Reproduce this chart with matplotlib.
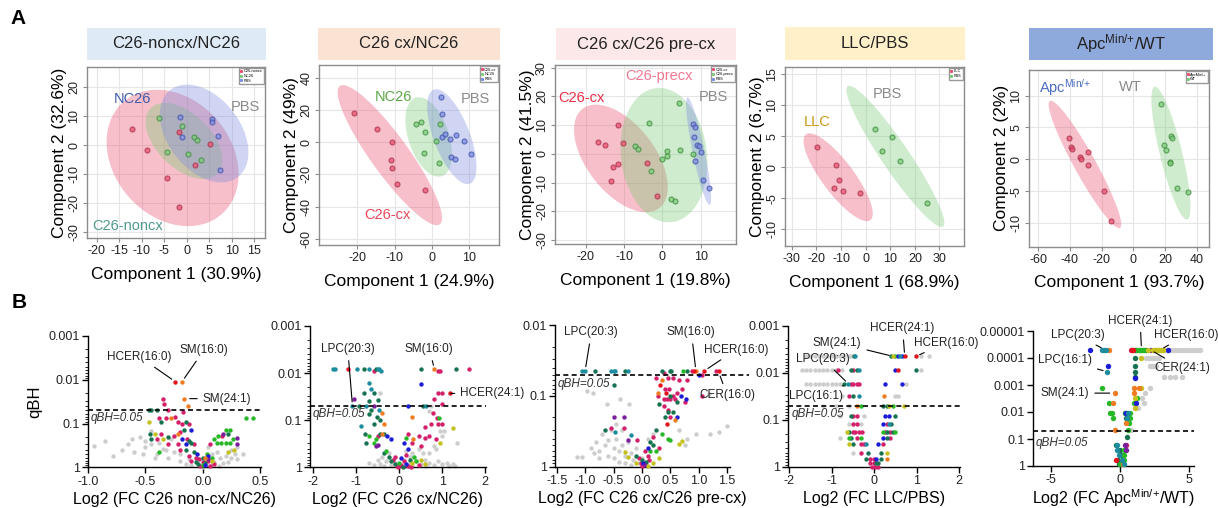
import numpy as np
import matplotlib.pyplot as plt
from matplotlib.patches import Rectangle
from matplotlib.lines import Line2D
from matplotlib.ticker import NullFormatter, LogLocator

plt.rcParams['font.family'] = ['Liberation Sans', 'DejaVu Sans']
plt.rcParams['mathtext.default'] = 'regular'
plt.rcParams['axes.unicode_minus'] = False

W, H = 1218, 508
APC = 'Apc$^{Min/{+}}$'

# ---------------- A: PLS-DA scores (component 1 / component 2) ----------------
a1_groups = ['C26-noncx', 'NC26', 'PBS']
a1_pc1 = [[-1.8, -12.2, -8.9, 1.9, 5.2, -4.4, -1.8],
          [-6.1, -1.1, -4.4, 1.7, 2.3, 0.2, 3.1],
          [-1.4, -1.1, 5.7, 5.7, 6.9, 7.4]]
a1_pc2 = [[4.6, 5.4, -1.7, -7.0, 0.3, -11.2, -21.4],
          [9.4, 6.6, -2.4, 2.9, 1.7, -3.1, -5.1],
          [9.6, 2.6, 9.1, 8.0, 3.1, -8.6]]

a2_groups = ['C26-cx', 'NC26', 'PBS']
a2_pc1 = [[-20.9, -14.6, -10.7, -10.9, -10.6, -9.3, -1.9],
          [-4.2, -3.0, -1.8, 1.1, -2.1, 2.1, 2.0],
          [2.5, 2.7, 2.8, 3.5, 4.9, 6.6, 8.6, 10.6, 5.1, 6.3]]
a2_pc2 = [[18.4, 8.1, 0.4, -11.0, -16.1, -26.1, -29.6],
          [11.6, 12.8, 6.2, 0.8, -6.8, 11.6, -13.0],
          [28.4, 17.4, 3.5, 5.0, 2.1, 4.8, 0.8, -7.5, -9.1, -10.6]]

a3_groups = ['C26-cx', 'C26-precx', 'PBS']
a3_pc1 = [[-16.9, -15.0, -11.5, -10.3, -11.5, -13.0, -13.5, -4.1, -1.5],
          [-3.4, 4.4, -7.1, -6.4, -3.0, 1.1, 1.3, -0.2, 4.6, 2.2, 3.4, 8.1],
          [8.0, 8.6, 8.3, 9.0, 10.0, 8.6, 10.6, 12.2, 9.6]]
a3_pc2 = [[4.3, 3.0, 10.1, 3.9, -3.5, -4.6, -9.4, -3.2, -14.5],
          [10.9, 17.8, 2.9, 1.6, -5.8, -0.7, 0.9, -1.9, 1.4, -15.8, -16.3, 0.0],
          [10.4, 9.2, 5.8, 3.0, 0.7, -2.4, -9.0, -11.9, 2.8]]

a4_groups = ['LLC', 'PBS']
a4_pc1 = [[-19.9, -12.2, -10.7, -13.0, -9.1, -2.2],
          [3.9, 6.8, 10.7, 14.1, 24.9]]
a4_pc2 = [[3.3, 0.3, -2.1, -3.3, -3.8, -4.1],
          [6.1, 2.6, 4.8, 1.0, -5.8]]

a5_groups = ['ApcMin/+', 'WT']
a5_pc1 = [[-40.6, -39.6, -38.5, -33.9, -33.3, -28.4, -28.4, -18.3, -13.9],
          [17.3, 19.2, 20.4, 24.0, 24.2, 23.4, 23.4, 27.4, 34.5]]
a5_pc2 = [[3.4, 1.9, 1.6, 0.4, 0.0, 1.1, -0.9, -5.0, -9.7],
          [8.6, 2.3, 1.4, 3.7, 3.4, -0.5, -0.6, -4.5, -5.1]]

# ---------------- B: volcano data (log2 FC, qBH, lipid class colour code) ----------------
b1_pts = [
    (-0.95, 0.33, 'g'), (-0.85, 0.25, 'g'), (-0.78, 0.55, 'g'), (-0.7, 0.4, 'g'), (-0.65, 0.3, 'g'),
    (-0.62, 0.22, 'g'), (-0.6, 0.45, 'g'), (-0.55, 0.2, 'g'), (-0.5, 0.35, 'g'), (-0.5, 0.25, 'g'),
    (-0.45, 0.3, 'g'), (-0.45, 0.15, 'g'), (-0.4, 0.5, 'g'), (-0.35, 0.38, 'g'), (-0.3, 0.6, 'g'),
    (-0.28, 0.22, 'g'), (-0.25, 0.45, 'g'), (-0.2, 0.7, 'g'), (-0.15, 0.85, 'g'), (-0.1, 0.9, 'g'),
    (-0.05, 0.6, 'g'), (0.0, 1.0, 'g'), (0.05, 0.95, 'g'), (0.05, 0.35, 'g'), (0.08, 0.5, 'g'),
    (0.1, 0.75, 'g'), (0.12, 0.45, 'g'), (0.15, 0.6, 'g'), (0.18, 0.8, 'g'), (0.2, 0.55, 'g'),
    (0.25, 0.6, 'g'), (0.25, 0.4, 'g'), (0.3, 0.65, 'g'), (0.3, 0.35, 'g'), (0.35, 0.5, 'g'),
    (-0.38, 0.28, 'g'), (-0.32, 0.4, 'g'), (-0.2, 0.5, 'g'), (-0.12, 0.65, 'g'), (0.02, 0.7, 'g'),
    (0.08, 0.85, 'g'), (0.14, 0.95, 'g'), (0.22, 0.75, 'g'), (0.28, 0.5, 'g'), (-0.52, 0.5, 'g'),
    (-0.42, 0.6, 'g'),
    (-0.24, 0.011, 'r'), (-0.18, 0.011, 'o'), (-0.16, 0.027, 'o'), (-0.13, 0.04, 'o'),
    (-0.35, 0.027, 'm'), (-0.34, 0.035, 'm'), (-0.17, 0.055, 'm'),
    (-0.47, 0.05, 'd'), (-0.45, 0.05, 'd'), (-0.4, 0.05, 'd'), (-0.3, 0.05, 'm'),
    (-0.38, 0.075, 'm'), (-0.32, 0.075, 'm'), (-0.28, 0.075, 'o'), (-0.24, 0.07, 'm'),
    (0.38, 0.075, 'G'), (0.44, 0.075, 'G'),
    (-0.47, 0.09, 'y'), (-0.36, 0.09, 'd'), (-0.22, 0.09, 'm'), (-0.18, 0.1, 'm'), (-0.15, 0.09, 'd'),
    (-0.12, 0.1, 'm'), (-0.1, 0.14, 'b'), (-0.16, 0.14, 'd'), (-0.2, 0.16, 'm'),
    (-0.42, 0.17, 'y'), (-0.46, 0.17, 'd'), (-0.36, 0.17, 'm'), (-0.3, 0.2, 'd'), (-0.25, 0.19, 'm'),
    (-0.22, 0.17, 'o'), (0.2, 0.14, 'G'), (0.24, 0.14, 'G'), (0.18, 0.17, 'p'), (0.13, 0.19, 'G'),
    (0.17, 0.19, 'm'), (0.22, 0.17, 'd'), (0.1, 0.22, 'G'), (0.3, 0.21, 'p'), (0.26, 0.22, 'G'),
    (-0.45, 0.22, 'd'), (-0.4, 0.23, 'm'), (-0.35, 0.23, 'y'), (-0.18, 0.22, 'b'), (-0.14, 0.22, 'm'),
    (-0.12, 0.25, 'd'), (0.12, 0.28, 'G'), (0.16, 0.28, 'G'), (0.2, 0.28, 'G'), (0.24, 0.28, 'G'),
    (0.3, 0.3, 'p'), (-0.3, 0.3, 'm'), (-0.22, 0.3, 'm'), (-0.15, 0.3, 'b'), (-0.1, 0.28, 'd'),
    (-0.08, 0.3, 'm'), (0.06, 0.3, 'm'), (-0.38, 0.45, 'G'), (-0.2, 0.4, 'm'), (-0.15, 0.4, 'd'),
    (-0.08, 0.45, 'd'), (-0.05, 0.5, 'b'), (0.22, 0.45, 'y'), (0.27, 0.4, 'y'), (0.04, 0.5, 'G'),
    (0.0, 0.6, 'd'), (-0.12, 0.55, 'm'), (-0.03, 0.65, 'm'), (0.05, 0.7, 'm'), (0.1, 0.85, 'm'),
    (-0.1, 0.7, 'm'), (-0.06, 0.75, 'd'), (0.02, 0.8, 'd'), (0.02, 0.9, 'b'), (-0.02, 0.95, 'm'),
    (0.06, 0.95, 'm'), (0.0, 0.9, 'G'), (0.08, 0.7, 'y'), (0.05, 0.65, 'p'), (0.05, 0.55, 'b'),
    (-0.04, 0.85, 'd'), (0.0, 0.75, 'm'), (0.02, 0.6, 'o'), (-0.06, 0.6, 'm'), (0.08, 0.6, 'G'),
]

b2_pts = [
    (-0.6, 0.9, 'g'), (-0.5, 0.7, 'g'), (-0.45, 0.85, 'g'), (-0.4, 0.6, 'g'), (-0.3, 0.75, 'g'),
    (-0.2, 0.9, 'g'), (-0.1, 0.8, 'g'), (0.0, 0.95, 'g'), (0.1, 0.7, 'g'), (0.2, 0.85, 'g'),
    (0.3, 0.9, 'g'), (0.4, 0.75, 'g'), (0.5, 0.85, 'g'), (0.6, 0.7, 'g'), (0.7, 0.8, 'g'),
    (0.8, 0.9, 'g'), (0.9, 0.75, 'g'), (1.0, 0.85, 'g'), (1.1, 0.8, 'g'), (1.25, 0.85, 'g'),
    (1.3, 0.95, 'g'), (0.55, 0.5, 'g'), (0.7, 0.5, 'g'), (0.85, 0.4, 'g'), (0.8, 0.35, 'g'),
    (1.35, 0.3, 'g'), (0.95, 0.17, 'g'), (1.05, 0.17, 'g'), (0.7, 0.065, 'g'), (0.75, 0.05, 'g'),
    (-0.45, 0.027, 'g'), (0.15, 0.45, 'g'), (0.3, 0.5, 'g'), (-0.25, 0.5, 'g'), (0.45, 0.4, 'g'),
    (1.0, 0.22, 'g'), (-0.7, 0.8, 'g'), (0.25, 0.6, 'g'), (0.62, 0.95, 'g'), (1.15, 0.95, 'g'),
    (-0.35, 0.95, 'g'),
    (-1.55, 0.0083, 't'), (-1.5, 0.0083, 't'), (-1.2, 0.0083, 'r'), (-0.98, 0.0083, 't'),
    (-0.82, 0.0083, 'd'), (-0.7, 0.0083, 't'), (-0.55, 0.0083, 'd'), (-0.5, 0.0083, 't'),
    (-0.47, 0.0083, 't'), (-0.6, 0.009, 'm'), (-0.42, 0.009, 't'),
    (0.5, 0.0083, 'd'), (0.82, 0.0083, 'o'), (0.9, 0.009, 'm'), (0.95, 0.009, 'm'),
    (1.32, 0.0083, 'd'), (1.62, 0.0083, 'm'),
    (-0.7, 0.016, 't'), (-0.65, 0.022, 't'), (-0.82, 0.027, 'd'), (-0.6, 0.027, 'd'),
    (-1.05, 0.035, 'p'), (-0.7, 0.04, 'd'), (-0.5, 0.038, 'd'),
    (0.5, 0.017, 'b'), (0.9, 0.027, 'm'), (1.0, 0.027, 'm'), (1.18, 0.027, 'r'), (0.82, 0.035, 'm'),
    (1.0, 0.045, 'm'),
    (-1.1, 0.05, 't'), (-0.95, 0.05, 'd'), (-0.78, 0.05, 't'), (-0.6, 0.05, 'p'), (0.2, 0.05, 'b'),
    (0.55, 0.05, 'd'), (0.62, 0.05, 't'),
    (-0.65, 0.06, 'd'), (-0.48, 0.06, 't'), (-0.7, 0.075, 'd'), (-0.4, 0.07, 'o'), (-0.52, 0.085, 'd'),
    (-0.45, 0.1, 'd'), (-0.9, 0.13, 't'), (-0.6, 0.12, 'd'), (-0.35, 0.12, 'o'),
    (0.78, 0.07, 'm'), (0.3, 0.085, 'o'), (0.88, 0.09, 'm'), (0.75, 0.12, 'm'), (0.9, 0.12, 'm'),
    (1.0, 0.12, 'm'), (0.92, 0.09, 'G'), (1.25, 0.15, 'y'), (0.6, 0.14, 'm'),
    (-0.7, 0.22, 'G'), (-0.55, 0.25, 'G'), (-0.8, 0.2, 'd'), (-0.5, 0.22, 'm'), (-0.4, 0.2, 'o'),
    (-0.45, 0.2, 'd'), (-0.35, 0.2, 'd'), (-0.28, 0.22, 'b'), (-0.2, 0.25, 'b'), (0.2, 0.2, 'm'),
    (0.45, 0.22, 'm'), (0.32, 0.25, 'o'), (0.15, 0.24, 'G'), (0.6, 0.24, 'm'), (0.7, 0.22, 'm'),
    (0.85, 0.25, 'm'), (0.95, 0.3, 'y'),
    (-0.55, 0.35, 'p'), (-0.5, 0.33, 'p'), (-0.78, 0.3, 'd'), (-0.6, 0.3, 'G'), (0.1, 0.3, 'b'),
    (0.2, 0.4, 'b'), (0.3, 0.3, 'm'), (0.5, 0.35, 'm'),
    (-0.35, 0.5, 'd'), (-0.3, 0.45, 'G'), (-0.25, 0.6, 'd'), (-0.15, 0.7, 'm'), (-0.1, 0.85, 'd'),
    (-0.05, 0.95, 'm'), (0.0, 0.8, 'G'), (0.05, 0.9, 'm'), (0.1, 0.75, 'm'), (0.15, 0.85, 'b'),
    (0.2, 0.95, 'm'), (0.25, 0.7, 'd'), (0.3, 0.8, 'y'), (0.4, 0.75, 'G'), (0.45, 0.9, 'm'),
    (0.6, 0.85, 'y'), (-0.2, 0.75, 'd'), (-0.1, 0.6, 'm'), (0.05, 0.65, 'b'), (0.15, 0.55, 'm'),
    (0.35, 0.6, 'G'), (0.5, 0.7, 'y'), (-0.02, 0.98, 'm'), (0.08, 0.98, 'd'), (0.28, 0.98, 'm'),
]

b3_pts = [
    (-0.96, 0.085, 'g'), (-0.86, 0.09, 'g'), (-0.62, 0.13, 'g'), (-0.38, 0.11, 'g'), (-0.22, 0.13, 'g'),
    (-1.15, 0.72, 'g'), (-1.05, 0.72, 'g'), (-0.9, 0.55, 'g'), (-0.8, 0.45, 'g'), (-0.75, 0.6, 'g'),
    (-0.7, 0.35, 'g'), (-0.65, 0.5, 'g'), (-0.6, 0.42, 'g'), (-0.55, 0.3, 'g'), (-0.5, 0.55, 'g'),
    (-0.45, 0.4, 'g'), (-0.4, 0.6, 'g'), (-0.35, 0.5, 'g'), (-0.3, 0.7, 'g'), (-0.25, 0.45, 'g'),
    (-0.2, 0.65, 'g'), (-0.15, 0.8, 'g'), (-0.1, 0.55, 'g'), (-0.05, 0.9, 'g'), (0.0, 0.75, 'g'),
    (-0.6, 0.7, 'g'), (-0.5, 0.75, 'g'), (-0.4, 0.85, 'g'), (-0.3, 0.9, 'g'), (-0.2, 0.95, 'g'),
    (-0.75, 0.75, 'g'), (-0.85, 0.65, 'g'), (-0.45, 0.25, 'g'), (-0.35, 0.3, 'g'), (1.5, 0.27, 'g'),
    (1.35, 0.32, 'g'), (1.2, 0.35, 'g'), (1.18, 0.095, 'g'), (0.95, 0.35, 'g'), (0.8, 0.4, 'g'),
    (0.75, 0.5, 'g'), (0.65, 0.3, 'g'), (0.1, 0.4, 'g'), (0.2, 0.35, 'g'),
    (-1.05, 0.044, 't'), (-1.0, 0.044, 't'), (-0.83, 0.044, 'd'), (-0.55, 0.044, 't'),
    (-0.5, 0.044, 't'), (-0.48, 0.044, 't'), (-0.3, 0.044, 'd'), (-0.25, 0.044, 't'),
    (-0.5, 0.07, 'd'),
    (0.36, 0.044, 'd'), (0.5, 0.044, 'd'), (0.38, 0.047, 'm'), (0.52, 0.044, 'd'), (0.72, 0.044, 'G'),
    (0.8, 0.044, 'd'), (0.88, 0.044, 'm'), (0.92, 0.044, 'r'), (0.95, 0.044, 'o'), (1.1, 0.044, 'r'),
    (1.3, 0.044, 'm'), (1.35, 0.044, 'r'), (1.0, 0.05, 'b'), (1.06, 0.05, 'm'),
    (0.25, 0.055, 'm'), (0.45, 0.055, 'm'), (0.55, 0.055, 'm'), (0.65, 0.06, 'm'), (0.8, 0.06, 'm'),
    (0.35, 0.06, 'o'), (0.32, 0.07, 'r'),
    (0.4, 0.08, 'm'), (0.48, 0.08, 'm'), (0.62, 0.09, 'm'), (0.7, 0.08, 'm'), (0.5, 0.1, 'd'),
    (0.68, 0.1, 'b'), (0.78, 0.11, 'b'), (0.55, 0.1, 'm'), (0.75, 0.12, 'm'), (0.62, 0.12, 'd'),
    (0.28, 0.1, 'm'), (0.28, 0.09, 'o'), (0.42, 0.09, 'r'), (0.38, 0.11, 'm'), (0.44, 0.11, 'm'),
    (0.5, 0.11, 'm'), (0.58, 0.11, 'm'), (1.05, 0.1, 'm'),
    (0.3, 0.13, 'd'), (0.38, 0.14, 'm'), (0.46, 0.16, 'm'), (0.4, 0.2, 'd'), (0.45, 0.17, 'd'),
    (0.55, 0.17, 'd'), (0.5, 0.2, 'm'), (0.62, 0.2, 'b'), (0.58, 0.22, 'o'), (0.44, 0.25, 'r'),
    (-0.5, 0.2, 'p'), (-0.32, 0.2, 'p'), (-0.32, 0.28, 'm'), (-0.55, 0.28, 'm'), (-0.65, 0.3, 'd'),
    (-0.48, 0.32, 't'), (-0.25, 0.42, 'p'), (-0.2, 0.36, 't'), (-0.08, 0.42, 'm'),
    (0.7, 0.44, 'y'), (0.65, 0.48, 'y'), (0.5, 0.42, 'G'), (0.45, 0.4, 'G'), (0.3, 0.55, 'm'),
    (0.2, 0.5, 'd'), (0.15, 0.6, 'G'), (0.1, 0.7, 'm'), (-0.3, 0.62, 'y'), (-0.25, 0.72, 'y'),
    (-0.1, 0.9, 'y'), (0.1, 0.98, 'y'), (0.25, 0.3, 'd'), (0.35, 0.35, 'G'), (0.2, 0.38, 'm'),
    (0.15, 0.45, 'd'), (0.05, 0.6, 'm'), (0.0, 0.8, 'd'), (-0.05, 0.75, 'm'), (0.02, 0.9, 'b'),
    (0.0, 0.98, 'm'), (0.08, 0.85, 'd'), (0.25, 0.6, 'G'), (0.3, 0.75, 'y'), (0.12, 0.8, 'm'),
    (-0.1, 0.7, 'd'), (0.1, 0.55, 'b'), (0.05, 0.95, 'p'), (0.2, 0.9, 'y'), (-0.02, 0.9, 'm'),
]

b4_pts = [
    (-1.6, 0.0045, 'g'), (-1.5, 0.0045, 'g'), (-1.4, 0.0045, 'g'), (-1.3, 0.0045, 'g'),
    (-1.2, 0.0045, 'g'), (-1.1, 0.0045, 'g'), (-1.0, 0.0045, 'g'), (-0.9, 0.0045, 'g'),
    (-0.8, 0.0045, 'g'), (-0.7, 0.0045, 'g'), (-0.6, 0.0045, 'g'), (-0.55, 0.0045, 'g'),
    (1.1, 0.0045, 'g'), (1.3, 0.0045, 'g'),
    (-0.48, 0.0045, 'd'), (-0.45, 0.0045, 't'), (0.4, 0.0045, 'd'), (0.44, 0.0045, 'y'),
    (0.48, 0.0045, 'G'), (0.55, 0.0045, 'b'), (0.6, 0.0045, 't'), (0.65, 0.0045, 'b'),
    (0.72, 0.0045, 'r'), (0.98, 0.0045, 'r'),
    (-1.7, 0.0088, 'g'), (-1.6, 0.0088, 'g'), (-1.5, 0.0088, 'g'), (-1.4, 0.0088, 'g'),
    (-1.3, 0.0088, 'g'), (-1.2, 0.0088, 'g'), (-1.1, 0.0088, 'g'), (-1.0, 0.0088, 'g'),
    (-0.9, 0.0088, 'g'), (-0.75, 0.0088, 'g'), (1.1, 0.0088, 'g'),
    (-0.85, 0.0088, 'm'), (-0.55, 0.0088, 'd'), (-0.5, 0.0088, 'm'), (-0.4, 0.0088, 'd'),
    (-0.35, 0.0088, 't'), (0.48, 0.0088, 'b'), (0.55, 0.0088, 'r'), (0.98, 0.0088, 'd'),
    (-1.6, 0.0174, 'g'), (-1.5, 0.0174, 'g'), (-1.4, 0.0174, 'g'), (-1.3, 0.0174, 'g'),
    (-1.2, 0.0174, 'g'), (-1.1, 0.0174, 'g'), (-1.0, 0.0174, 'g'), (-0.9, 0.0174, 'g'),
    (-0.8, 0.0174, 'g'), (0.75, 0.0174, 'g'),
    (-0.7, 0.0174, 'd'), (-0.62, 0.0174, 't'), (-0.55, 0.0174, 'm'), (-0.5, 0.0174, 'm'),
    (-0.4, 0.0174, 'm'), (-0.35, 0.0174, 'm'), (0.25, 0.0174, 'b'), (0.65, 0.0174, 'b'),
    (-0.75, 0.031, 'g'), (0.5, 0.031, 'g'), (0.55, 0.031, 'g'),
    (-0.6, 0.031, 'm'), (-0.5, 0.031, 'd'), (-0.35, 0.031, 't'), (0.24, 0.031, 'o'),
    (-1.2, 0.05, 'g'), (-0.9, 0.05, 'g'), (-0.6, 0.05, 'g'),
    (-0.4, 0.05, 'o'), (-0.3, 0.05, 'G'), (0.22, 0.05, 'd'), (0.3, 0.05, 'd'), (0.35, 0.05, 'y'),
    (0.45, 0.05, 'G'), (0.7, 0.05, 'y'),
    (-0.8, 0.082, 'g'), (-0.25, 0.082, 'g'),
    (-0.55, 0.082, 'd'), (-0.5, 0.082, 'm'), (-0.4, 0.082, 'm'), (0.25, 0.082, 'b'),
    (0.35, 0.082, 'b'), (0.5, 0.082, 'd'),
    (-0.6, 0.126, 'g'), (-0.3, 0.126, 'g'),
    (-0.5, 0.126, 'm'), (-0.4, 0.126, 'm'), (0.2, 0.126, 'b'), (0.3, 0.126, 'm'), (0.4, 0.126, 'd'),
    (0.36, 0.126, 't'),
    (-0.65, 0.18, 'y'), (-0.6, 0.18, 'd'), (-0.5, 0.18, 'm'), (-0.45, 0.18, 'm'), (-0.35, 0.18, 'm'),
    (-0.28, 0.18, 'm'), (0.2, 0.18, 'G'), (0.25, 0.18, 'm'), (0.3, 0.18, 'd'), (0.38, 0.18, 'm'),
    (0.45, 0.18, 'd'), (0.5, 0.18, 'G'),
    (-0.8, 0.24, 'g'),
    (-0.6, 0.24, 'G'), (-0.55, 0.24, 'd'), (-0.4, 0.24, 'm'), (-0.3, 0.24, 'G'), (0.22, 0.24, 'b'),
    (0.3, 0.24, 'd'), (0.38, 0.24, 'm'),
    (-0.6, 0.335, 'y'), (-0.5, 0.335, 'd'), (-0.3, 0.335, 'm'), (-0.25, 0.335, 'm'), (-0.2, 0.335, 't'),
    (0.1, 0.335, 'b'), (0.2, 0.335, 'm'),
    (-0.5, 0.52, 'g'),
    (-0.3, 0.52, 'm'), (-0.15, 0.52, 'd'), (0.15, 0.52, 'd'), (0.3, 0.52, 'y'),
    (-0.2, 0.7, 'd'), (-0.1, 0.7, 'm'), (0.0, 0.7, 'm'), (0.05, 0.7, 'b'), (0.15, 0.7, 'd'),
    (0.3, 0.7, 'o'),
    (-0.1, 0.85, 'm'), (0.0, 0.85, 'm'), (0.05, 0.85, 'd'), (0.1, 0.85, 'd'),
    (-0.05, 1.0, 'm'), (0.02, 1.0, 'm'), (0.1, 1.0, 'm'),
]

b5_pts = [
    (2.6, 5e-5, 'g'), (2.8, 5e-5, 'g'), (3.0, 5e-5, 'g'), (3.2, 5e-5, 'g'), (3.4, 5e-5, 'g'),
    (3.6, 5e-5, 'g'), (3.8, 5e-5, 'g'), (4.0, 5e-5, 'g'), (4.2, 5e-5, 'g'), (4.4, 5e-5, 'g'),
    (4.6, 5e-5, 'g'), (4.8, 5e-5, 'g'), (5.0, 5e-5, 'g'), (5.2, 5e-5, 'g'), (5.4, 5e-5, 'g'),
    (5.6, 5e-5, 'g'), (5.8, 5e-5, 'g'),
    (1.9, 1e-4, 'g'), (2.05, 1e-4, 'g'), (2.2, 1e-4, 'g'), (2.35, 1e-4, 'g'), (2.5, 1e-4, 'g'),
    (2.65, 1e-4, 'g'), (2.8, 1e-4, 'g'),
    (2.15, 2e-4, 'g'), (2.3, 2e-4, 'g'), (2.45, 2e-4, 'g'), (2.6, 2e-4, 'g'),
    (3.2, 4.9e-4, 'g'), (3.6, 4.9e-4, 'g'), (4.0, 4.9e-4, 'g'), (4.5, 4.9e-4, 'g'),
    (2.2, 1.3e-3, 'g'), (1.8, 2e-3, 'g'), (1.6, 3.1e-3, 'g'), (1.7, 4.8e-3, 'g'), (1.3, 7.3e-3, 'g'),
    (0.8, 0.047, 'g'),
    (-2.2, 5e-5, 'b'), (-1.35, 5e-5, 't'), (-1.2, 5e-5, 't'), (-1.05, 5e-5, 't'), (-0.8, 5e-5, 'o'),
    (0.8, 5e-5, 'm'), (0.85, 5e-5, 'r'), (0.95, 5e-5, 'r'), (1.05, 5e-5, 'd'), (1.15, 5e-5, 'm'),
    (1.25, 5e-5, 'G'), (1.35, 5e-5, 'G'), (1.45, 5e-5, 'd'), (1.55, 5e-5, 'G'), (1.65, 5e-5, 'G'),
    (1.75, 5e-5, 'G'), (1.85, 5e-5, 'd'), (2.0, 5e-5, 'y'), (2.2, 5e-5, 'p'), (2.35, 5e-5, 'y'),
    (2.5, 5e-5, 'y'), (2.65, 5e-5, 'y'), (2.8, 5e-5, 'y'), (2.95, 5e-5, 'y'), (3.1, 5e-5, 'y'),
    (3.45, 5e-5, 'b'),
    (1.05, 1e-4, 'd'), (1.55, 1e-4, 'y'),
    (-0.9, 2e-4, 'b'), (1.1, 2e-4, 'd'),
    (-0.95, 3.2e-4, 't'), (1.05, 3.2e-4, 'd'),
    (1.05, 4.9e-4, 'd'), (1.1, 5.5e-4, 'b'),
    (-1.3, 1.3e-3, 'G'), (1.0, 1.3e-3, 'o'), (1.35, 1.3e-3, 'o'), (1.5, 1.3e-3, 'y'),
    (-0.4, 2e-3, 'o'), (1.0, 2e-3, 'o'),
    (1.05, 3.1e-3, 'y'), (1.2, 3.1e-3, 'G'),
    (-0.8, 4.8e-3, 'G'), (-0.55, 4.8e-3, 'o'), (1.15, 4.8e-3, 'b'), (1.0, 4.8e-3, 'G'),
    (1.1, 7.3e-3, 'y'),
    (-0.75, 0.011, 'G'), (-0.6, 0.011, 'G'), (0.35, 0.011, 'd'), (0.45, 0.011, 'b'), (0.55, 0.011, 't'),
    (0.7, 0.011, 'G'),
    (-0.55, 0.017, 'G'), (0.4, 0.017, 'd'), (0.5, 0.017, 't'), (0.75, 0.017, 'G'),
    (0.4, 0.026, 'o'), (0.65, 0.026, 'G'),
    (-0.4, 0.047, 'o'), (0.6, 0.047, 'G'),
    (0.5, 0.082, 'd'),
    (-0.3, 0.17, 'd'), (-0.2, 0.17, 't'), (0.35, 0.17, 'p'), (0.4, 0.17, 'm'),
    (-0.2, 0.26, 't'), (0.0, 0.26, 'd'), (0.25, 0.26, 'G'), (0.4, 0.26, 'p'),
    (-0.1, 0.39, 't'), (0.05, 0.39, 'd'), (0.3, 0.39, 'G'),
    (-0.15, 0.6, 'd'), (0.1, 0.6, 't'), (-0.3, 0.6, 'r'), (0.3, 0.6, 'G'),
    (-0.1, 0.85, 'd'), (0.0, 0.85, 'G'), (0.2, 0.85, 'o'), (0.3, 0.85, 't'),
]

vol_colors = {'g': '#CDCDCD', 'm': '#D4206A', 'd': '#16734F', 'G': '#27B827', 'b': '#1C1CD8',
              'p': '#7A1E9E', 'y': '#C6C01C', 'o': '#F07C22', 'r': '#E4141C', 't': '#1C8C9E'}

grp_fill = ['#E8506E', '#7ACB78', '#7C8CE0']
grp_edge = ['#A8304C', '#3E8A3E', '#4050A8']

fig = plt.figure(figsize=(W / 100, H / 100), dpi=100)


def px_axes(l, t, r, b):
    return fig.add_axes([l / W, 1 - b / H, (r - l) / W, (b - t) / H])


def title_box(l, t, r, b, color, text):
    fig.patches.append(Rectangle((l / W, 1 - b / H), (r - l) / W, (b - t) / H,
                                 transform=fig.transFigure, facecolor=color, edgecolor='none'))
    fig.text((l + r) / 2 / W, 1 - (t + b) / 2 / H, text, ha='center', va='center',
             fontsize=12, color='#222222')


def ellipse(x, y, k=2.4477):
    # 95% confidence region of the group scores
    x, y = np.asarray(x), np.asarray(y)
    vals, vecs = np.linalg.eigh(np.cov(x, y))
    t = np.linspace(0, 2 * np.pi, 200)
    pts = vecs @ (np.sqrt(vals)[:, None] * np.vstack([np.cos(t), np.sin(t)])) * k
    return x.mean() + pts[0], y.mean() + pts[1]


def pca_panel(ax, pc1, pc2, groups, xlim, ylim, xticks, yticks, xlab, ylab):
    for i, (gx, gy) in enumerate(zip(pc1, pc2)):
        ex, ey = ellipse(gx, gy)
        ax.fill(ex, ey, color=grp_fill[i], alpha=0.36, lw=0, zorder=1)
    for i, (gx, gy) in enumerate(zip(pc1, pc2)):
        ax.scatter(gx, gy, s=13, facecolor=grp_fill[i], edgecolor=grp_edge[i],
                   alpha=0.75, lw=0.8, zorder=3)
    ax.set_xlim(xlim)
    ax.set_ylim(ylim)
    ax.set_xticks(xticks)
    ax.set_yticks(yticks)
    ax.grid(True, color='#E6E6E6', lw=0.8)
    ax.set_axisbelow(True)
    for s in ax.spines.values():
        s.set_color('#8C8C8C')
        s.set_linewidth(1.0)
    ax.tick_params(length=3, width=0.8, color='#8C8C8C', labelsize=9, labelcolor='#222222', pad=2)
    for lab in ax.get_yticklabels():
        lab.set_rotation(90)
        lab.set_va('center')
    ax.set_xlabel(xlab, fontsize=12.5, labelpad=7)
    ax.set_ylabel(ylab, fontsize=12.5, labelpad=1)
    handles = [Line2D([], [], marker='s', ls='', ms=1.2, color=grp_fill[i]) for i in range(len(groups))]
    ax.legend(handles, groups, loc='upper right', fontsize=2.8, frameon=True, fancybox=False,
              edgecolor='#999999', framealpha=1, borderpad=0.4, handlelength=0.5,
              handletextpad=0.3, labelspacing=0.15, borderaxespad=0.3)


def volcano(ax, pts, xlim, xticks, xticklabels, ytop, yticks, yticklabels, xlab, ms=10, lpad=3):
    for code in vol_colors:
        sel = [(x, q) for x, q, c in pts if c == code]
        if sel:
            xs, qs = zip(*sel)
            ax.scatter(xs, qs, s=ms, color=vol_colors[code], lw=0, zorder=2 if code == 'g' else 3,
                       clip_on=False)
    ax.set_yscale('log')
    ax.set_ylim(1, ytop)
    ax.set_xlim(xlim)
    ax.set_xticks(xticks)
    ax.set_xticklabels(xticklabels)
    ax.set_yticks(yticks)
    ax.set_yticklabels(yticklabels)
    ax.yaxis.set_minor_locator(LogLocator(base=10, subs=np.arange(2, 10)))
    ax.yaxis.set_minor_formatter(NullFormatter())
    for s in ['top', 'right']:
        ax.spines[s].set_visible(False)
    for s in ['left', 'bottom']:
        ax.spines[s].set_linewidth(1.0)
    ax.tick_params(which='major', length=4, width=1.0, labelsize=9, labelcolor='#222222', pad=2)
    ax.tick_params(which='minor', length=2, width=0.6)
    ax.set_xlabel(xlab, fontsize=11.5, labelpad=lpad)


def dashed(ax, x0, x1, label_x, label_q):
    ax.plot([x0, x1], [0.05, 0.05], ls=(0, (3, 2)), color='black', lw=1.2, clip_on=False, zorder=4)
    ax.text(label_x, label_q, 'qBH=0.05', fontsize=8.5, style='italic', color='#333333',
            ha='left', va='center', zorder=5)


def note(ax, text, xy, xytext, ha='center'):
    ax.annotate(text, xy=xy, xytext=xytext, textcoords='data', fontsize=8.5, ha=ha, va='center',
                color='#222222', annotation_clip=False,
                arrowprops=dict(arrowstyle='-', color='black', lw=0.8, shrinkA=2, shrinkB=3))


# ---------------- panel A ----------------
title_box(87, 28, 266, 60, '#DEEBF7', 'C26-noncx/NC26')
title_box(318, 28, 500, 60, '#FBE3D3', 'C26 cx/NC26')
title_box(556, 28, 736, 60, '#FCE8E8', 'C26 cx/C26 pre-cx')
title_box(785, 27, 965, 60, '#FFF0C9', 'LLC/PBS')
title_box(1029, 28, 1213, 60, '#8EA9DB', APC + '/WT')

ax = px_axes(87.3, 66.7, 265, 238.3)
pca_panel(ax, a1_pc1, a1_pc2, a1_groups, (-22.1, 17.4), (-32, 26.9), range(-20, 16, 5),
          range(-30, 21, 10), 'Component 1 (30.9%)', 'Component 2 (32.6%)')
ax.text(-12, 15.8, 'NC26', color='#3F5BA9', fontsize=10.5, ha='center', va='center')
ax.text(13, 13, 'PBS', color='#8A8A8A', fontsize=10.5, ha='center', va='center')
ax.text(-13.1, -27.8, 'C26-noncx', color='#4E9A8E', fontsize=10.5, ha='center', va='center')

ax = px_axes(319.3, 65, 499.3, 245)
pca_panel(ax, a2_pc1, a2_pc2, a2_groups, (-30.2, 18.1), (-63.8, 48), range(-20, 11, 10),
          range(-60, 41, 20), 'Component 1 (24.9%)', 'Component 2 (49%)')
ax.text(-10.2, 28, 'NC26', color='#5AA845', fontsize=10.5, ha='center', va='center')
ax.text(11.8, 27, 'PBS', color='#8A8A8A', fontsize=10.5, ha='center', va='center')
ax.text(-11.9, -45, 'C26-cx', color='#E8465A', fontsize=10.5, ha='center', va='center')

ax = px_axes(555, 65, 736, 244.3)
pca_panel(ax, a3_pc1, a3_pc2, a3_groups, (-28, 19.2), (-31.4, 30.9), range(-20, 11, 10),
          range(-30, 31, 10), 'Component 1 (19.8%)', 'Component 2 (41.5%)')
ax.text(-1.0, 27, 'C26-precx', color='#F07890', fontsize=10.5, ha='center', va='center')
ax.text(-21, 19.4, 'C26-cx', color='#E8304A', fontsize=10.5, ha='center', va='center')
ax.text(13.3, 19.7, 'PBS', color='#8A8A8A', fontsize=10.5, ha='center', va='center')

ax = px_axes(785, 66.7, 964, 246)
pca_panel(ax, a4_pc1, a4_pc2, a4_groups, (-32.8, 40), (-12.7, 16.2), range(-30, 31, 10),
          range(-10, 16, 5), 'Component 1 (68.9%)', 'Component 2 (6.7%)')
ax.text(8.7, 11.8, 'PBS', color='#8A8A8A', fontsize=10.5, ha='center', va='center')
ax.text(-19.9, 7.3, 'LLC', color='#C89A10', fontsize=10.5, ha='center', va='center')

ax = px_axes(1029.3, 70, 1209.3, 246.7)
pca_panel(ax, a5_pc1, a5_pc2, a5_groups, (-65.7, 48), (-13.7, 14), range(-60, 41, 20),
          range(-10, 11, 5), 'Component 1 (93.7%)', 'Component 2 (2%)')
ax.text(-43, 11.3, APC, color='#4A6CC0', fontsize=10.5, ha='center', va='center')
ax.text(-1.7, 11.4, 'WT', color='#8A8A8A', fontsize=10.5, ha='center', va='center')

# ---------------- panel B ----------------
y3 = [0.001, 0.01, 0.1, 1]
y3l = ['0.001', '0.01', '0.1', '1']

ax = px_axes(88, 336, 260.7, 467.3)
volcano(ax, b1_pts, (-1.0, 0.505), [-1.0, -0.5, 0.0, 0.5], ['-1.0', '-0.5', '0.0', '0.5'],
        0.001, y3, y3l, 'Log2 (FC C26 non-cx/NC26)')
ax.set_ylabel('qBH', fontsize=12, labelpad=4)
dashed(ax, -1.0, 0.505, -0.98, 0.075)
note(ax, 'HCER(16:0)', (-0.24, 0.011), (-0.55, 0.003))
note(ax, 'SM(16:0)', (-0.18, 0.011), (0.01, 0.0021))
note(ax, 'SM(24:1)', (-0.15, 0.027), (0.0, 0.027), ha='left')

ax = px_axes(310, 326, 486, 467.3)
volcano(ax, b2_pts, (-2.08, 2.02), [-2, -1, 0, 1, 2], ['-2', '-1', '0', '1', '2'],
        0.001, y3, y3l, 'Log2 (FC C26 cx/NC26)')
dashed(ax, -2.08, 2.02, -2.02, 0.075)
note(ax, 'LPC(20:3)', (-1.09, 0.05), (-1.2, 0.0031))
note(ax, 'SM(16:0)', (0.82, 0.0083), (0.7, 0.0031))
note(ax, 'HCER(24:1)', (1.2, 0.027), (1.42, 0.027), ha='left')

ax = px_axes(555, 325.3, 730, 466.7)
volcano(ax, b3_pts, (-1.53, 1.55), [-1.5, -1.0, -0.5, 0.0, 0.5, 1.0, 1.5],
        ['-1.5', '-1.0', '-0.5', '0.0', '0.5', '1.0', '1.5'],
        0.01, [0.01, 0.1, 1], ['0.01', '0.1', '1'], 'Log2 (FC C26 cx/C26 pre-cx)')
dashed(ax, -1.53, 1.88, -1.48, 0.068)
note(ax, 'LPC(20:3)', (-1.0, 0.044), (-0.89, 0.0126))
note(ax, 'SM(16:0)', (0.95, 0.044), (0.87, 0.0126))
note(ax, 'HCER(16:0)', (1.1, 0.044), (1.66, 0.022))
note(ax, 'CER(16:0)', (1.35, 0.046), (1.5, 0.097))

ax = px_axes(788.3, 325.7, 960, 466.7)
volcano(ax, b4_pts, (-2.02, 2.02), [-2, -1, 0, 1, 2], ['-2', '-1', '0', '1', '2'],
        0.001, y3, y3l, 'Log2 (FC LLC/PBS)')
dashed(ax, -2.02, 2.02, -1.95, 0.075)
note(ax, 'HCER(24:1)', (0.72, 0.0045), (0.67, 0.00114))
note(ax, 'SM(24:1)', (0.45, 0.0045), (-0.87, 0.0023))
note(ax, 'HCER(16:0)', (0.98, 0.0045), (1.7, 0.0023))
note(ax, 'LPC(20:3)', (-0.6, 0.0174), (-1.2, 0.0052))
note(ax, 'LPC(16:1)', (-0.62, 0.0174), (-1.36, 0.031))

ax = px_axes(1033.3, 331, 1194, 466)
volcano(ax, b5_pts, (-6.3, 5.36), [-5, 0, 5], ['-5', '0', '5'], 1e-5,
        [1e-5, 1e-4, 1e-3, 1e-2, 0.1, 1], ['0.00001', '0.0001', '0.001', '0.01', '0.1', '1'],
        'Log2 (FC ' + APC + '/WT)', ms=15, lpad=0.5)
dashed(ax, -6.3, 5.36, -6.1, 0.14)
note(ax, 'LPC(20:3)', (-1.1, 5e-5), (-3.1, 1.4e-5))
note(ax, 'LPC(16:1)', (-0.95, 3.2e-4), (-4.0, 1.2e-4))
note(ax, 'SM(24:1)', (-0.45, 2e-3), (-4.0, 2e-3))
note(ax, 'HCER(24:1)', (1.55, 5e-5), (1.45, 4.2e-6))
note(ax, 'HCER(16:0)', (2.9, 5e-5), (4.8, 1.4e-5))
note(ax, 'CER(24:1)', (2.2, 5e-5), (4.5, 2.4e-4))

fig.text(18 / W, 1 - 19 / H, 'A', fontsize=15, weight='bold', ha='center', va='center')
fig.text(19 / W, 1 - 303 / H, 'B', fontsize=15, weight='bold', ha='center', va='center')

fig.savefig('out.png', dpi=100)
